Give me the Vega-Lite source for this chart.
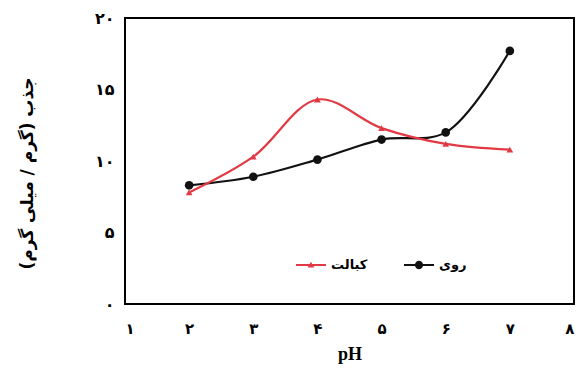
{
  "$schema": "https://vega.github.io/schema/vega-lite/v6.json",
  "width": 449,
  "height": 286,
  "autosize": {"type": "none"},
  "padding": {"left": 125, "top": 18, "right": 4, "bottom": 68},
  "background": "#ffffff",
  "config": {
    "view": {"stroke": "#000000", "strokeWidth": 2},
    "axis": {"grid": false}
  },
  "data": {
    "values": [
      {"pH": 2, "value": 8.3, "metal": "روی"},
      {"pH": 3, "value": 8.9, "metal": "روی"},
      {"pH": 4, "value": 10.1, "metal": "روی"},
      {"pH": 5, "value": 11.5, "metal": "روی"},
      {"pH": 6, "value": 12.0, "metal": "روی"},
      {"pH": 7, "value": 17.7, "metal": "روی"},
      {"pH": 2, "value": 7.8, "metal": "کبالت"},
      {"pH": 3, "value": 10.3, "metal": "کبالت"},
      {"pH": 4, "value": 14.3, "metal": "کبالت"},
      {"pH": 5, "value": 12.3, "metal": "کبالت"},
      {"pH": 6, "value": 11.2, "metal": "کبالت"},
      {"pH": 7, "value": 10.8, "metal": "کبالت"}
    ]
  },
  "encoding": {
    "x": {
      "field": "pH",
      "type": "quantitative",
      "scale": {"domain": [1, 8], "nice": false},
      "axis": {
        "values": [1, 2, 3, 4, 5, 6, 7, 8],
        "labelExpr": "['۰','۱','۲','۳','۴','۵','۶','۷','۸'][datum.value]",
        "ticks": false,
        "domain": false,
        "labelPadding": 17,
        "labelFont": "DejaVu Sans",
        "labelFontWeight": "bold",
        "labelFontSize": 15,
        "labelColor": "#000000",
        "title": "pH",
        "titleFont": "Liberation Serif",
        "titleFontSize": 18,
        "titleFontWeight": "bold",
        "titleColor": "#000000",
        "titlePadding": 9
      }
    },
    "y": {
      "field": "value",
      "type": "quantitative",
      "scale": {"domain": [0, 20], "nice": false},
      "axis": {
        "values": [0, 5, 10, 15, 20],
        "labelExpr": "['۰','۵','۱۰','۱۵','۲۰'][datum.value/5]",
        "ticks": false,
        "domain": false,
        "labelPadding": 11,
        "labelFont": "DejaVu Sans",
        "labelFontWeight": "bold",
        "labelFontSize": 16,
        "labelColor": "#000000",
        "title": "جذب (گرم / میلی گرم)",
        "titleFont": "DejaVu Sans",
        "titleFontSize": 17,
        "titleFontWeight": "bold",
        "titleColor": "#000000",
        "titlePadding": 58,
        "titleY": 155
      }
    },
    "color": {
      "field": "metal",
      "type": "nominal",
      "scale": {"domain": ["کبالت", "روی"], "range": ["#e23a44", "#111111"]}
    }
  },
  "layer": [
    {
      "mark": {"type": "line", "interpolate": "catmull-rom", "strokeWidth": 2.2},
      "encoding": {
        "color": {
          "field": "metal",
          "type": "nominal",
          "legend": {
            "orient": "none",
            "legendX": 171,
            "legendY": 232,
            "direction": "horizontal",
            "title": null,
            "symbolSize": 900,
            "columnPadding": 36,
            "labelFont": "DejaVu Sans",
            "labelFontWeight": "bold",
            "labelFontSize": 13,
            "labelColor": "#000000",
            "labelOffset": 5,
            "encode": {
              "symbols": {
                "update": {
                  "shape": {"signal": "datum.value === 'روی' ? 'M-1,-0.07L1,-0.07L1,0.07L-1,0.07ZM0.28,0L0.242,0.14L0.14,0.242L0,0.28L-0.14,0.242L-0.242,0.14L-0.28,0L-0.242,-0.14L-0.14,-0.242L0,-0.28L0.14,-0.242L0.242,-0.14Z' : 'M-1,-0.07L1,-0.07L1,0.07L-1,0.07ZM0,-0.22L0.22,0.16L-0.22,0.16Z'"},
                  "fill": {"signal": "datum.value === 'روی' ? '#111111' : '#e23a44'"},
                  "strokeWidth": {"value": 0},
                  "size": {"value": 900},
                  "fillOpacity": {"value": 1},
                  "opacity": {"value": 1}
                }
              }
            }
          }
        }
      }
    },
    {
      "transform": [{"filter": "datum.metal === 'روی'"}],
      "mark": {"type": "point", "filled": true, "opacity": 1, "size": 75, "shape": "circle"},
      "encoding": {
        "color": {"field": "metal", "type": "nominal", "legend": null}
      }
    },
    {
      "transform": [{"filter": "datum.metal === 'کبالت'"}],
      "mark": {"type": "point", "filled": true, "opacity": 1, "size": 45, "shape": "triangle-up"},
      "encoding": {
        "color": {"field": "metal", "type": "nominal", "legend": null}
      }
    }
  ]
}
